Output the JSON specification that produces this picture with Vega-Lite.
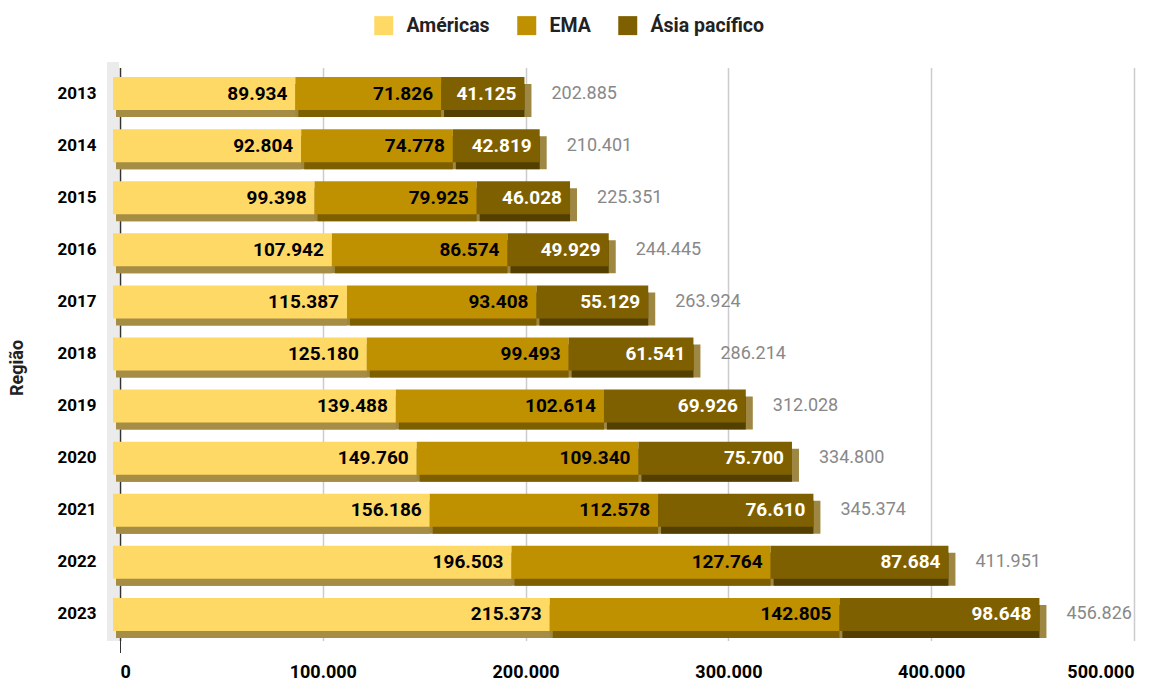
{
  "$schema": "https://vega.github.io/schema/vega-lite/v6.json",
  "width": 1014,
  "height": 573,
  "autosize": "none",
  "padding": {"left": 120, "top": 67.5, "right": 36, "bottom": 41.5},
  "background": "white",
  "config": {
    "locale": {"number": {"decimal": ",", "thousands": ".", "grouping": [3], "currency": ["", ""]}},
    "font": "Roboto",
    "view": {"stroke": null}
  },
  "data": {"values": [
    {"year": "2013", "region": "Américas", "value": 89934},
    {"year": "2013", "region": "EMA", "value": 71826},
    {"year": "2013", "region": "Ásia pacífico", "value": 41125},
    {"year": "2014", "region": "Américas", "value": 92804},
    {"year": "2014", "region": "EMA", "value": 74778},
    {"year": "2014", "region": "Ásia pacífico", "value": 42819},
    {"year": "2015", "region": "Américas", "value": 99398},
    {"year": "2015", "region": "EMA", "value": 79925},
    {"year": "2015", "region": "Ásia pacífico", "value": 46028},
    {"year": "2016", "region": "Américas", "value": 107942},
    {"year": "2016", "region": "EMA", "value": 86574},
    {"year": "2016", "region": "Ásia pacífico", "value": 49929},
    {"year": "2017", "region": "Américas", "value": 115387},
    {"year": "2017", "region": "EMA", "value": 93408},
    {"year": "2017", "region": "Ásia pacífico", "value": 55129},
    {"year": "2018", "region": "Américas", "value": 125180},
    {"year": "2018", "region": "EMA", "value": 99493},
    {"year": "2018", "region": "Ásia pacífico", "value": 61541},
    {"year": "2019", "region": "Américas", "value": 139488},
    {"year": "2019", "region": "EMA", "value": 102614},
    {"year": "2019", "region": "Ásia pacífico", "value": 69926},
    {"year": "2020", "region": "Américas", "value": 149760},
    {"year": "2020", "region": "EMA", "value": 109340},
    {"year": "2020", "region": "Ásia pacífico", "value": 75700},
    {"year": "2021", "region": "Américas", "value": 156186},
    {"year": "2021", "region": "EMA", "value": 112578},
    {"year": "2021", "region": "Ásia pacífico", "value": 76610},
    {"year": "2022", "region": "Américas", "value": 196503},
    {"year": "2022", "region": "EMA", "value": 127764},
    {"year": "2022", "region": "Ásia pacífico", "value": 87684},
    {"year": "2023", "region": "Américas", "value": 215373},
    {"year": "2023", "region": "EMA", "value": 142805},
    {"year": "2023", "region": "Ásia pacífico", "value": 98648}
  ]},
  "encoding": {
    "y": {
      "field": "year", "type": "nominal", "sort": "ascending",
      "scale": {"paddingInner": 0, "paddingOuter": 0},
      "axis": {
        "title": "Região", "titleFontSize": 18, "titleFontWeight": "bold", "titleColor": "#222", "titlePadding": 30, "titleY": 300,
        "labelFontSize": 17, "labelFontWeight": "bold", "labelColor": "#000", "labelPadding": 24,
        "domain": false, "ticks": false, "grid": false
      }
    }
  },
  "layer": [
    {
      "mark": {"type": "rect", "color": "#ebebeb", "xOffset": -13, "x2Offset": -1, "yOffset": -5, "y2Offset": 8},
      "encoding": {"x": {"datum": 0, "type": "quantitative"}, "x2": {"datum": 0}, "y": null}
    },
    {
      "transform": [{"aggregate": [{"op": "sum", "field": "value", "as": "total"}], "groupby": ["year"]}],
      "layer": [
        {
          "mark": {"type": "bar", "height": 33, "yOffset": 7, "color": "#9E8643"},
          "encoding": {"x": {"field": "total", "type": "quantitative"}}
        },
        {
          "mark": {"type": "text", "align": "left", "baseline": "middle", "dx": 20, "fontSize": 18, "color": "#888888"},
          "encoding": {"x": {"field": "total", "type": "quantitative"}, "text": {"field": "total", "type": "quantitative", "format": ",d"}}
        }
      ]
    },
    {
      "transform": [{"stack": "value", "groupby": ["year"], "sort": [{"field": "region", "order": "ascending"}], "as": ["v0", "v1"]}],
      "layer": [
        {
          "mark": {"type": "bar", "height": 33, "yOffset": 7, "xOffset": -4, "x2Offset": -7},
          "encoding": {
            "x": {"field": "v0", "type": "quantitative"},
            "x2": {"field": "v1"},
            "color": {"field": "region", "type": "nominal", "legend": null,
              "scale": {"domain": ["Américas", "EMA", "Ásia pacífico"], "range": ["#A68D45", "#7E5F00", "#534000"]}}
          }
        },
        {
          "mark": {"type": "bar", "height": 33, "xOffset": -7, "x2Offset": -7},
          "encoding": {
            "x": {"field": "v0", "type": "quantitative",
              "scale": {"domain": [0, 500000], "nice": false},
              "axis": {
                "title": null, "values": [0, 100000, 200000, 300000, 400000, 500000], "format": ",d",
                "labelFontSize": 18, "labelFontWeight": "bold", "labelColor": "#000", "labelPadding": 11,
                "domain": false, "tickSize": 12,
                "tickColor": {"condition": {"test": "datum.value === 0", "value": "#333333"}, "value": "transparent"},
                "grid": true,
                "gridColor": {"condition": {"test": "datum.value === 0", "value": "#333333"}, "value": "#cccccc"},
                "gridWidth": 1.5
              }
            },
            "x2": {"field": "v1"},
            "color": {"field": "region", "type": "nominal", "title": null,
              "scale": {"domain": ["Américas", "EMA", "Ásia pacífico"], "range": ["#FFD966", "#BF9000", "#7F6000"]},
              "legend": {
                "orient": "none", "legendX": 254, "legendY": -52, "direction": "horizontal",
                "symbolType": "square", "symbolSize": 361, "symbolStrokeWidth": 0, "symbolOpacity": 1,
                "labelFontSize": 19.5, "labelFontWeight": "bold", "labelColor": "#222", "labelOffset": 13,
                "columnPadding": 27
              }
            }
          }
        },
        {
          "mark": {"type": "text", "align": "right", "baseline": "middle", "dx": -15, "fontSize": 19, "fontWeight": "bold"},
          "encoding": {
            "x": {"field": "v1", "type": "quantitative"},
            "text": {"field": "value", "type": "quantitative", "format": ",d"},
            "color": {"condition": {"test": "datum.region === 'Ásia pacífico'", "value": "#ffffff"}, "value": "#000000"}
          }
        }
      ],
      "resolve": {"scale": {"color": "independent"}}
    }
  ],
  "resolve": {"scale": {"color": "independent"}}
}
